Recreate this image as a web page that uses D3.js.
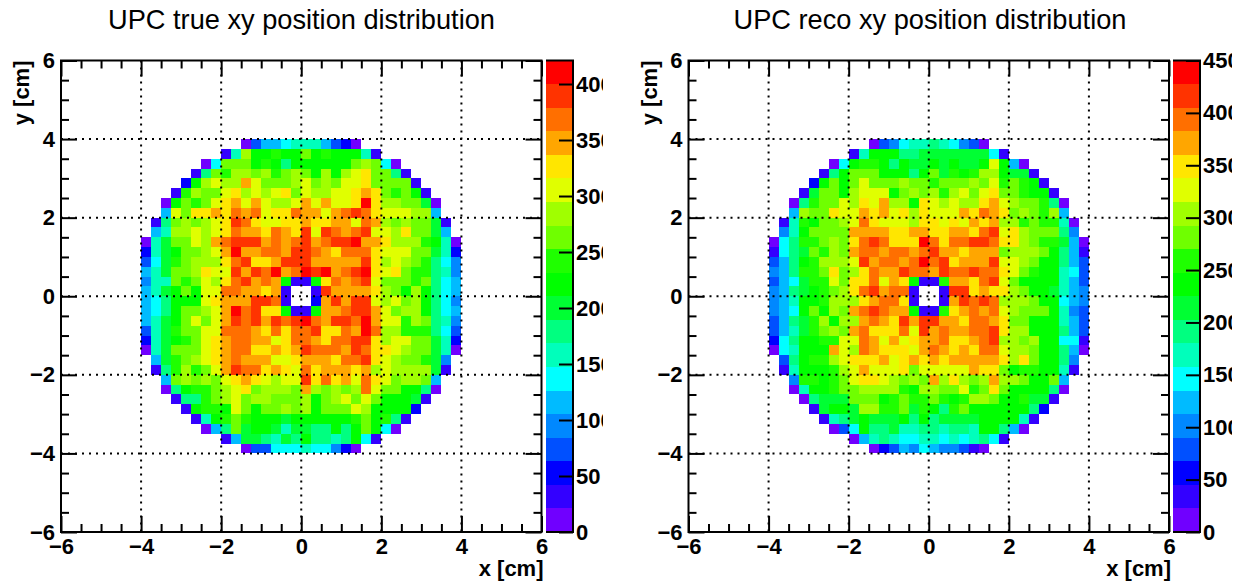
<!DOCTYPE html>
<html>
<head>
<meta charset="utf-8">
<script src="https://cdn.jsdelivr.net/npm/d3@7"></script>
<style>
    html, body { margin: 0; padding: 0; background: white; }
    svg { display: block; }
    text { font-family: "Liberation Sans", Arial, sans-serif; fill: black; }
    .tick text, .axis-label { font-weight: bold; font-size: 22px; }
    .title { font-size: 27.2px; }
</style>
</head>
<body>
<div id="chart"></div>
<script>

// first filled column of every row, top row (y = 4) first
const row_start = [10, 8, 6, 5, 4, 3, 2, 2, 1, 1, 0, 0, 0, 0, 0, 0, 0, 0, 0, 0, 0, 0, 1, 1, 2, 2, 3, 4, 5, 6, 8, 10]

// counts per bin, 0 = empty bin
const true_counts = [
    [10,73,115,115,136,157,157,157,115,73,52,10],
    [31,157,283,220,220,241,220,220,262,220,241,220,220,220,157,31],
    [10,136,262,262,262,220,241,220,178,220,220,220,220,220,220,262,283,262,136,10],
    [31,178,262,241,283,283,262,283,241,262,283,262,220,283,220,283,304,325,262,262,178,31],
    [52,220,283,304,283,283,346,304,262,262,262,283,304,262,283,262,304,304,325,262,262,262,262,31],
    [31,241,283,262,262,304,325,283,304,283,304,325,262,304,283,283,304,304,325,346,325,262,241,262,220,31],
    [10,220,262,241,262,304,325,346,304,346,304,283,283,304,346,304,346,304,304,325,409,325,283,283,262,262,199,10],
    [115,304,262,325,325,346,325,367,346,367,304,325,325,367,346,346,304,346,367,388,367,325,304,304,304,283,283,115],
    [31,178,262,283,262,283,304,325,388,367,325,304,304,325,325,346,325,325,346,346,304,367,346,283,262,283,262,262,199,31],
    [115,157,283,283,304,283,304,325,367,346,346,325,367,346,325,388,304,388,367,346,367,388,304,304,283,325,262,262,199,115],
    [10,157,199,262,262,304,283,346,367,388,388,388,346,367,346,367,388,346,367,388,388,409,346,346,325,283,283,283,241,220,157,10],
    [52,157,199,220,262,262,283,304,346,409,346,346,367,367,346,388,388,367,346,325,367,367,367,325,304,304,304,262,262,199,157,52],
    [73,136,199,241,262,283,283,283,325,367,388,325,325,346,388,388,388,346,346,346,346,346,388,325,283,304,283,262,241,178,136,94],
    [115,157,199,262,262,283,325,304,304,388,346,388,367,409,346,367,409,388,409,346,367,388,409,325,304,325,262,241,241,178,157,94],
    [94,157,157,262,241,262,304,283,325,367,388,346,367,346,220,31,31,220,325,367,346,367,388,304,262,262,262,241,262,178,136,115],
    [115,157,199,220,262,220,304,304,367,367,346,346,325,346,31,0,0,31,388,346,346,346,346,325,283,262,220,283,220,178,136,115],
    [115,136,178,220,220,220,304,325,346,346,346,388,388,367,31,0,0,52,346,388,346,388,388,304,283,304,262,283,220,178,136,94],
    [115,136,178,220,262,262,283,304,346,409,367,388,325,325,220,31,31,220,346,346,367,388,388,346,304,262,283,283,220,178,136,115],
    [115,157,199,220,262,304,262,304,346,388,367,388,346,388,367,388,409,367,346,388,388,367,409,346,304,304,241,283,262,178,157,94],
    [73,157,199,241,262,262,304,304,367,367,367,346,325,367,325,367,367,388,325,325,367,346,409,367,283,283,241,241,241,178,136,73],
    [52,157,199,220,241,262,304,325,346,367,367,346,346,304,325,367,367,346,325,367,367,388,388,325,283,304,304,262,262,199,157,52],
    [10,157,199,262,262,262,304,325,346,367,367,325,325,346,325,346,388,367,367,367,346,388,367,325,325,304,283,262,262,199,157,10],
    [115,199,241,262,283,304,325,346,367,346,346,346,304,304,325,346,346,346,325,367,367,388,325,304,283,262,262,241,199,94],
    [31,178,241,283,241,262,304,346,388,367,367,325,346,325,304,367,325,346,346,346,325,346,283,304,283,283,283,283,199,31],
    [115,262,283,262,283,262,304,325,346,325,304,283,304,304,388,325,367,325,346,304,367,325,304,262,283,283,262,115],
    [10,178,220,241,241,262,283,304,325,262,283,283,283,262,346,283,262,283,262,283,367,304,262,262,220,220,178,10],
    [31,178,178,241,262,283,304,262,283,283,262,262,262,283,220,262,283,304,262,304,262,220,220,220,199,31],
    [31,220,241,241,220,304,262,220,262,262,283,262,283,220,262,262,262,304,283,220,220,220,220,52],
    [31,157,220,241,262,241,220,220,220,199,220,220,220,220,220,220,241,262,220,241,178,31],
    [10,115,178,262,199,220,220,199,157,199,199,178,178,220,178,220,262,220,136,10],
    [31,115,199,199,178,157,199,178,220,178,178,157,178,220,136,31],
    [10,73,73,136,136,136,157,136,136,94,52,10]
]

const reco_counts = [
    [11,79,101,146,169,169,191,169,146,101,79,11],
    [34,169,236,236,236,191,191,214,214,214,214,214,214,214,146,34],
    [11,146,236,259,259,236,191,236,214,214,236,214,236,214,214,236,326,236,124,11],
    [34,191,236,281,281,281,236,236,236,191,236,281,214,259,236,259,304,304,236,214,214,34],
    [56,236,281,236,281,326,281,281,281,304,281,281,259,281,281,281,304,281,326,259,281,259,236,34],
    [34,214,281,281,236,304,326,326,326,236,281,304,281,304,259,304,326,281,326,349,281,281,259,236,236,34],
    [11,191,259,281,281,326,304,349,326,371,304,304,236,349,326,304,326,304,304,349,371,326,304,281,281,259,191,11],
    [124,304,281,281,349,326,326,371,349,371,326,349,304,349,326,326,326,371,349,394,371,349,281,304,281,259,304,124],
    [34,169,259,236,281,281,304,326,394,349,326,326,326,304,349,349,326,349,326,371,349,371,304,304,259,281,259,259,169,11],
    [101,169,236,281,281,281,281,371,371,371,371,349,349,371,371,349,349,371,371,349,394,416,326,349,304,281,281,281,191,101],
    [11,146,191,259,259,281,304,281,349,394,416,394,349,349,349,439,394,349,394,394,416,416,394,349,349,304,281,259,259,214,124,11],
    [34,146,191,214,281,259,304,281,371,394,394,371,394,394,371,394,416,371,371,349,371,371,371,281,304,304,304,281,236,191,124,34],
    [79,124,191,236,259,304,304,304,326,416,371,394,394,371,394,439,394,416,349,371,371,371,416,326,326,304,281,236,236,191,124,79],
    [101,124,191,259,259,281,349,281,304,349,394,371,371,416,394,394,371,416,394,394,416,394,394,349,326,281,259,236,236,169,146,79],
    [79,124,146,214,259,259,326,281,349,349,394,326,371,349,236,34,34,259,371,371,349,394,416,326,281,236,236,236,236,169,124,79],
    [101,124,191,214,236,259,281,304,349,394,416,371,394,394,34,0,0,34,416,416,349,371,349,349,304,281,236,236,214,169,124,101],
    [101,124,169,236,236,259,304,304,304,349,371,394,394,349,34,0,0,34,371,416,394,416,394,304,304,304,281,236,236,146,124,101],
    [101,124,146,236,281,236,304,281,371,394,416,394,371,371,236,34,34,259,349,371,394,371,394,326,304,281,281,281,236,169,101,79],
    [79,124,191,214,259,304,236,304,304,371,394,371,349,416,371,416,416,371,371,349,394,394,371,349,281,281,236,236,236,169,124,79],
    [79,124,169,214,259,281,304,281,371,394,349,349,349,394,326,416,371,394,371,371,394,394,416,349,304,304,236,236,236,191,124,79],
    [56,146,191,236,236,259,259,326,326,394,371,326,371,326,349,371,371,394,349,349,371,394,416,304,304,281,304,236,236,146,146,34],
    [11,146,169,236,236,236,371,326,304,394,371,349,349,349,326,371,394,371,349,371,349,394,394,326,304,304,281,236,236,191,124,11],
    [79,191,236,259,259,304,326,349,349,349,371,326,349,371,349,371,349,371,371,371,371,371,349,304,349,281,236,236,191,101],
    [34,169,236,236,236,259,304,326,371,326,326,326,349,281,326,326,326,326,326,371,349,349,281,236,259,259,236,236,169,34],
    [101,259,259,236,259,281,326,349,349,326,304,281,304,281,371,304,349,304,281,304,371,304,304,281,236,236,281,124],
    [11,169,236,236,259,281,281,304,304,304,304,259,236,304,304,281,281,326,259,281,349,281,236,236,236,236,191,11],
    [11,191,214,214,214,281,281,281,236,259,281,259,259,281,259,236,259,304,304,281,236,236,259,214,214,34],
    [34,214,236,236,214,304,304,259,259,281,214,259,236,191,259,281,236,236,236,236,236,236,191,56],
    [34,169,191,214,236,214,214,214,236,191,236,191,214,214,214,214,236,236,236,236,169,34],
    [11,79,146,236,191,191,214,169,169,191,191,169,191,191,169,236,236,191,124,11],
    [11,124,169,191,169,146,146,169,169,146,169,146,169,191,146,34],
    [11,56,79,124,101,146,124,101,101,79,34,11]
]

// 20 step rainbow of the palette bar, low to high
const palette = ['#7000ff', '#3300ff', '#0000ff', '#0050ff', '#0088ff', '#00bbff', '#00ffff', '#00ffbb', '#00ff80', '#00ff33',
    '#00ff00', '#1fff00', '#6fff00', '#a0ff00', '#e0ff00', '#ffe600', '#ffa600', '#ff6f00', '#ff3300', '#ff0000']

const major_ticks = [-6, -4, -2, 0, 2, 4, 6]
const minor_ticks = [-5.5, -5, -4.5, -3.5, -3, -2.5, -1.5, -1, -0.5, 0.5, 1, 1.5, 2.5, 3, 3.5, 4.5, 5, 5.5]
const grid_ticks = [-4, -2, 0, 2, 4]
const true_z_ticks = [0, 50, 100, 150, 200, 250, 300, 350, 400]
const reco_z_ticks = [0, 50, 100, 150, 200, 250, 300, 350, 400, 450]

const bin_width = 0.25
const first_bin = -4

const svgWidth = 1234
const svgHeight = 581

const svg = d3.select('#chart')
    .append('svg')
    .attr('width', svgWidth)
    .attr('height', svgHeight)

const label_fmt = d => String(d).replace('-', '\u2212')

function panel(opts) {

    const g = svg.append('g')
    const plot = { left: opts.left, right: opts.left + 480.5, top: 60.5, bottom: 532 }

    const x = d3.scaleLinear().domain([-6, 6]).range([plot.left, plot.right])
    const y = d3.scaleLinear().domain([-6, 6]).range([plot.bottom, plot.top])
    const z = d3.scaleLinear().domain([0, opts.zmax]).range([plot.bottom, plot.top])
    const color = d3.scaleQuantize().domain([0, opts.zmax]).range(palette)

    ////////////////////////////////////
    ///////////// the bins /////////////
    ////////////////////////////////////

    const cells = opts.counts.flatMap((row, r) => row.map((v, i) => ({
        x0: first_bin + (row_start[r] + i) * bin_width,
        y1: -first_bin - r * bin_width,
        value: v
    }))).filter(d => d.value > 0)

    g.append('g')
        .selectAll('rect')
        .data(cells)
        .join('rect')
        .attr('x', d => x(d.x0))
        .attr('y', d => y(d.y1))
        .attr('width', d => x(d.x0 + bin_width) - x(d.x0))
        .attr('height', d => y(d.y1 - bin_width) - y(d.y1))
        .attr('fill', d => color(d.value))
        .attr('shape-rendering', 'crispEdges')

    ////////////////////////////////////
    ////////////// grid ////////////////
    ////////////////////////////////////

    g.append('g')
        .selectAll('line')
        .data(grid_ticks)
        .join('line')
        .attr('x1', d => x(d))
        .attr('x2', d => x(d))
        .attr('y1', plot.top)
        .attr('y2', plot.bottom)
        .attr('stroke', 'black')
        .attr('stroke-width', 2)
        .attr('stroke-dasharray', '2 5')

    g.append('g')
        .selectAll('line')
        .data(grid_ticks)
        .join('line')
        .attr('x1', plot.left)
        .attr('x2', plot.right)
        .attr('y1', d => y(d))
        .attr('y2', d => y(d))
        .attr('stroke', 'black')
        .attr('stroke-width', 2)
        .attr('stroke-dasharray', '2 5')

    ////////////////////////////////////
    ////////////// axes ////////////////
    ////////////////////////////////////

    // ticks point inwards on all four sides, only bottom and left have labels
    const sides = [
        { axis: d3.axisBottom(x), at: `translate(0,${plot.bottom})`, labels: true },
        { axis: d3.axisTop(x), at: `translate(0,${plot.top})`, labels: false },
        { axis: d3.axisLeft(y), at: `translate(${plot.left},0)`, labels: true },
        { axis: d3.axisRight(y), at: `translate(${plot.right},0)`, labels: false }
    ]

    sides.forEach(s => {
        const major = g.append('g')
            .attr('transform', s.at)
            .call(s.axis.tickValues(major_ticks)
                .tickSizeOuter(0)
                .tickSizeInner(-16)
                .tickPadding(s.axis === sides[2].axis ? 6 : 6)
                .tickFormat(s.labels ? label_fmt : ''))
        major.select('.domain').remove()
        major.selectAll('line').attr('stroke-width', 2)
        major.selectAll('text').attr('fill', 'black')

        const minor = g.append('g')
            .attr('transform', s.at)
            .call(s.axis.tickValues(minor_ticks).tickSizeInner(-8).tickFormat(''))
        minor.select('.domain').remove()
        minor.selectAll('line').attr('stroke-width', 2)
    })

    g.append('rect')
        .attr('x', plot.left)
        .attr('y', plot.top)
        .attr('width', plot.right - plot.left)
        .attr('height', plot.bottom - plot.top)
        .attr('fill', 'none')
        .attr('stroke', 'black')
        .attr('stroke-width', 2)

    ////////////////////////////////////
    //////////// palette bar ///////////
    ////////////////////////////////////

    g.append('g')
        .selectAll('rect')
        .data(palette)
        .join('rect')
        .attr('x', opts.bar)
        .attr('width', 27)
        .attr('y', d => z(color.invertExtent(d)[1]))
        .attr('height', d => z(color.invertExtent(d)[0]) - z(color.invertExtent(d)[1]))
        .attr('fill', d => d)
        .attr('shape-rendering', 'crispEdges')

    // palette labels are cut off on the right like in the original
    const clip_id = 'clip' + opts.left
    svg.append('clipPath')
        .attr('id', clip_id)
        .append('rect')
        .attr('x', opts.bar)
        .attr('y', 40)
        .attr('width', opts.clip - opts.bar)
        .attr('height', 520)

    const bar_axis = g.append('g')
        .attr('clip-path', `url(#${clip_id})`)
        .append('g')
        .attr('transform', `translate(${opts.bar + 27},0)`)
        .call(d3.axisRight(z)
            .tickValues(opts.zticks)
            .tickSizeOuter(0)
            .tickSizeInner(-14)
            .tickPadding(3))
    bar_axis.select('.domain').remove()
    bar_axis.selectAll('line').attr('stroke-width', 2)

    g.append('path')
        .attr('d', `M${opts.bar},${plot.top}H${opts.bar + 27}V${plot.bottom}H${opts.bar}`)
        .attr('fill', 'none')
        .attr('stroke', 'black')
        .attr('stroke-width', 2)

    ////////////////////////////////////
    ///////////// labels ///////////////
    ////////////////////////////////////

    g.append('text')
        .attr('class', 'title')
        .attr('x', opts.title_x)
        .attr('y', 29)
        .attr('text-anchor', 'middle')
        .text(opts.title)

    g.append('text')
        .attr('class', 'axis-label')
        .attr('x', plot.right + 2)
        .attr('y', 576)
        .attr('text-anchor', 'end')
        .text('x [cm]')

    g.append('text')
        .attr('class', 'axis-label')
        .attr('transform', `translate(${plot.left - 32},${plot.top}) rotate(-90)`)
        .attr('text-anchor', 'end')
        .text('y [cm]')
}

panel({
    left: 61,
    bar: 546,
    clip: 603,
    zmax: 421,
    zticks: true_z_ticks,
    counts: true_counts,
    title: 'UPC true xy position distribution',
    title_x: 301.5
})

panel({
    left: 688.5,
    bar: 1173,
    clip: 1232,
    zmax: 450,
    zticks: reco_z_ticks,
    counts: reco_counts,
    title: 'UPC reco xy position distribution',
    title_x: 930
})

</script>
</body>
</html>
